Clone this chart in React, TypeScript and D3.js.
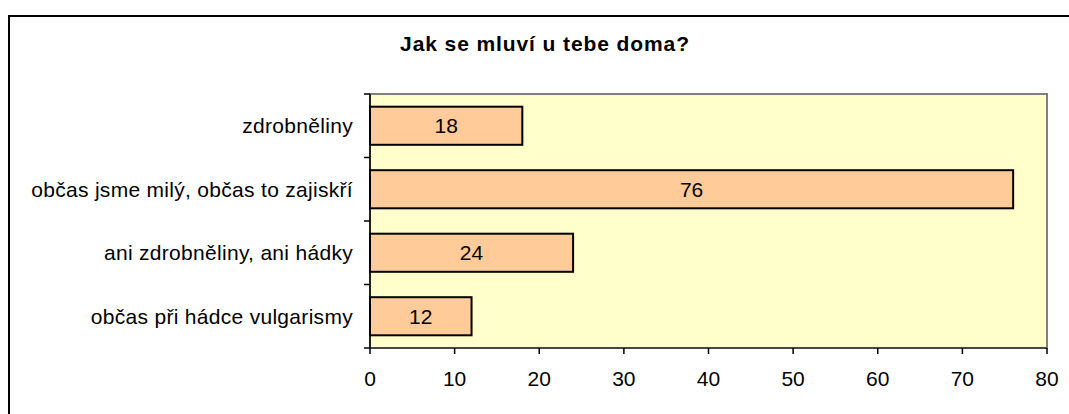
import React from 'react';
import * as d3 from 'd3';

const categories = [
  'zdrobněliny',
  'občas jsme milý, občas to zajiskří',
  'ani zdrobněliny, ani hádky',
  'občas při hádce vulgarismy',
];
const values = [18, 76, 24, 12];
const xTicks = [0, 10, 20, 30, 40, 50, 60, 70, 80];
const title = 'Jak se mluví u tebe doma?';

export default function App() {
  const width = 1069;
  const height = 414;
  const plot = { left: 370, top: 94, right: 1047, bottom: 348 };
  const font = "'Liberation Sans', Arial, sans-serif";

  const x = d3.scaleLinear().domain([0, 80]).range([plot.left, plot.right]);
  const y = d3.scaleBand<string>()
    .domain(categories)
    .range([plot.top, plot.bottom])
    .paddingInner(0.4)
    .paddingOuter(0.2);

  // category boundaries for the left tick marks
  const step = (plot.bottom - plot.top) / categories.length;
  const boundaries = d3.range(categories.length + 1).map(i => plot.top + i * step);

  return (
    <svg
      width={width}
      height={height}
      style={{ position: 'absolute', left: 0, top: 0, background: '#fff' }}
      fontFamily={font}
    >
      {/* outer chart frame */}
      <rect x={9} y={16} width={1200} height={600} fill="#fff" stroke="#000" strokeWidth={2} />

      <text
        x={545}
        y={51}
        textAnchor="middle"
        fontSize={21}
        fontWeight="bold"
        letterSpacing={0.9}
        fill="#000"
      >
        {title}
      </text>

      {/* plot area */}
      <rect
        x={plot.left}
        y={plot.top}
        width={plot.right - plot.left}
        height={plot.bottom - plot.top}
        fill="#FFFFCC"
        stroke="#808080"
        strokeWidth={2}
      />

      {/* bars */}
      {categories.map((c, i) => (
        <g key={c}>
          <rect
            x={x(0)}
            y={y(c)!}
            width={x(values[i]) - x(0)}
            height={y.bandwidth()}
            fill="#FFCC99"
            stroke="#000"
            strokeWidth={2}
          />
          <text
            x={(x(0) + x(values[i])) / 2}
            y={y(c)! + y.bandwidth() / 2}
            dy="0.35em"
            textAnchor="middle"
            fontSize={21}
            fill="#000"
          >
            {values[i]}
          </text>
          <text
            x={plot.left - 17}
            y={y(c)! + y.bandwidth() / 2}
            dy="0.35em"
            textAnchor="end"
            fontSize={21}
            letterSpacing={0.3}
            fill="#000"
          >
            {c}
          </text>
        </g>
      ))}

      {/* left axis */}
      <line x1={plot.left} x2={plot.left} y1={plot.top} y2={plot.bottom} stroke="#000" strokeWidth={1.5} />
      {boundaries.map((b, i) => (
        <line key={i} x1={plot.left - 6} x2={plot.left} y1={b} y2={b} stroke="#000" strokeWidth={1.5} />
      ))}

      {/* bottom axis */}
      <line x1={plot.left} x2={plot.right} y1={plot.bottom} y2={plot.bottom} stroke="#333" strokeWidth={1.5} />
      {xTicks.map(t => (
        <g key={t}>
          <line x1={x(t)} x2={x(t)} y1={plot.bottom} y2={plot.bottom + 6} stroke="#000" strokeWidth={1.5} />
          <text x={x(t)} y={386} textAnchor="middle" fontSize={21} fill="#000">
            {t}
          </text>
        </g>
      ))}
    </svg>
  );
}
